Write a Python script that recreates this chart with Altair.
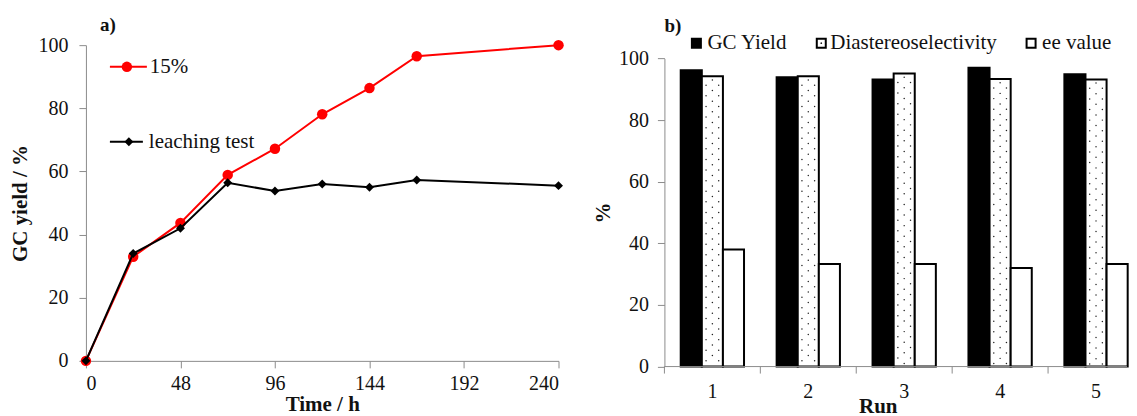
import altair as alt
import pandas as pd

# ---------------- data ----------------
time_h = [0, 24, 48, 72, 96, 120, 144, 168, 240]
yield_15 = [0, 33, 43.7, 58.9, 67.2, 78.1, 86.4, 96.5, 100]
yield_leach = [0, 34, 42, 56.4, 53.8, 56, 55, 57.3, 55.5]
line_series = ["15%", "leaching test"]
x_ticks = [0, 48, 96, 144, 192, 240]
y_ticks = [0, 20, 40, 60, 80, 100]

runs = ["1", "2", "3", "4", "5"]
gc_yield = [96.2, 93.9, 93.2, 97.0, 94.9]
diastereo = [94.2, 94.2, 95.1, 93.3, 93.2]
ee_value = [38.0, 33.3, 33.3, 32.0, 33.3]
bar_series = ["GC Yield", "Diastereoselectivity", "ee value"]
bar_fills = ["black", "white", "white"]
panel_labels = ["a)", "b)"]

FONT = "Liberation Serif"
GREY = "#8c8c8c"
TXT = "#111111"

# ---------------- left panel ----------------
LW, LH = 473, 316
df_line = pd.DataFrame({
    "time": time_h * 2,
    "yield": yield_15 + yield_leach,
    "series": [line_series[0]] * len(time_h) + [line_series[1]] * len(time_h),
})

axL_x = alt.Axis(values=x_ticks, title="Time / h", grid=False, tickSize=7,
                 labelPadding=6, titlePadding=0, labelAngle=0)
axL_y = alt.Axis(values=y_ticks, title="GC yield / %", grid=False, tickSize=7,
                 labelPadding=11, titlePadding=7)
xL = alt.X("time:Q", scale=alt.Scale(domain=[0, 240], nice=False), axis=axL_x)
yL = alt.Y("yield:Q", scale=alt.Scale(domain=[0, 100], nice=False), axis=axL_y)

base_l = alt.Chart(df_line)
red = base_l.transform_filter(alt.datum.series == line_series[0]).mark_line(
    color="#ff0000", strokeWidth=2,
    point=alt.OverlayMarkDef(filled=True, size=110, color="#ff0000")
).encode(x=xL, y=yL)
blk = base_l.transform_filter(alt.datum.series == line_series[1]).mark_line(
    color="black", strokeWidth=2,
    point=alt.OverlayMarkDef(filled=True, size=80, shape="diamond", color="black")
).encode(x=xL, y=yL)

df_leg_l = pd.DataFrame({"series": line_series})
leg_l = []
for s, col, shp, sz, yy, x0, x1, xm, xt in [
    (line_series[0], "#ff0000", "circle", 110, 21.7, 24, 61, 41, 64),
    (line_series[1], "black", "diamond", 80, 96.7, 24, 57, 43, 63),
]:
    b = alt.Chart(df_leg_l).transform_filter(alt.datum.series == s)
    leg_l.append(b.mark_rule(color=col, strokeWidth=2).encode(
        x=alt.value(x0), x2=alt.value(x1), y=alt.value(yy)))
    leg_l.append(b.mark_point(filled=True, size=sz, shape=shp, color=col, opacity=1).encode(
        x=alt.value(xm), y=alt.value(yy)))
    leg_l.append(b.mark_text(align="left", baseline="middle", font=FONT, fontSize=21,
                             color=TXT).encode(x=alt.value(xt), y=alt.value(yy), text="series:N"))

lab_a = alt.Chart(pd.DataFrame({"label": [panel_labels[0]]})).mark_text(
    align="left", baseline="middle", font=FONT, fontSize=19, fontWeight="bold", color=TXT
).encode(x=alt.value(14), y=alt.value(-20), text="label:N")

left = alt.layer(red, blk, *leg_l, lab_a).properties(width=LW, height=LH)

# ---------------- right panel ----------------
RW, RH = 463, 321.7
df_bar = pd.DataFrame({
    "run": runs * 3,
    "series": [s for s in bar_series for _ in runs],
    "value": gc_yield + diastereo + ee_value,
})

axR_y = alt.Axis(values=y_ticks, title="%", grid=False, tickSize=7,
                 labelPadding=9, titlePadding=5)
scR_x = alt.Scale(domain=runs, range=[0, 480], paddingInner=0.34, paddingOuter=0.17)
scR_y = alt.Scale(domain=[0, 100], range=[RH, 13.3], nice=False)
xR = alt.X("run:N", sort=runs, scale=scR_x, axis=None)
xOff = alt.XOffset("series:N", sort=bar_series,
                   scale=alt.Scale(domain=bar_series, paddingInner=0, paddingOuter=0))
yR = alt.Y("value:Q", scale=scR_y, axis=axR_y)

base_r = alt.Chart(df_bar)
bars = base_r.mark_bar(stroke="black", strokeWidth=2).encode(
    x=xR, xOffset=xOff, y=yR,
    fill=alt.Fill("series:N", scale=alt.Scale(domain=bar_series, range=bar_fills), legend=None),
)

# stipple texture for the dotted bars: 11 sub-slots per group, middle bar = slots 4,5,6
slots = [f"s{i}" for i in range(11)]
dot_layers = []
for slot, start_off in [("s5", 1.2), ("s4", 2.9), ("s6", 2.9)]:
    dot_layers.append(
        base_r.transform_filter(alt.datum.series == bar_series[1])
        .transform_calculate(dy=f"sequence(datum.value - {start_off}, 0.6, -3.44)",
                             slot=f"'{slot}'")
        .transform_flatten(["dy"])
        .mark_circle(size=2.2, color="#222222", opacity=1)
        .encode(x=xR,
                xOffset=alt.XOffset("slot:N", scale=alt.Scale(domain=slots, paddingInner=0,
                                                              paddingOuter=0)),
                y=alt.Y("dy:Q", scale=scR_y, axis=axR_y))
    )

df_runs = pd.DataFrame({"run": runs})
ticks_r = alt.Chart(df_runs).mark_rule(color=GREY, strokeWidth=1).encode(
    x=alt.X("run:N", sort=runs, bandPosition=0,
            scale=alt.Scale(domain=runs, range=[0, 480], paddingInner=0, paddingOuter=0),
            axis=None),
    y=alt.value(RH), y2=alt.value(RH + 7),
)
run_labels = alt.Chart(df_runs).mark_text(
    baseline="middle", align="center", font=FONT, fontSize=20, color=TXT
).encode(x=alt.X("run:N", sort=runs, scale=scR_x, axis=None), y=alt.value(RH + 25), text="run:N")

df_b = pd.DataFrame({"label": [panel_labels[1]]})
baseline = alt.Chart(df_b).mark_rule(color=GREY, strokeWidth=1).encode(
    x=alt.value(0), x2=alt.value(RW), y=alt.value(RH))
lab_b = alt.Chart(df_b).mark_text(
    align="left", baseline="middle", font=FONT, fontSize=19, fontWeight="bold", color=TXT
).encode(x=alt.value(0), y=alt.value(-19), text="label:N")
run_title = alt.Chart(pd.DataFrame({"t": ["Run"]})).mark_text(
    align="center", baseline="middle", font=FONT, fontSize=21, fontWeight="bold", color=TXT
).encode(x=alt.value(214), y=alt.value(RH + 40), text="t:N")

df_leg_r = pd.DataFrame({"series": bar_series, "fill": bar_fills})
leg_r = []
for s, f, xs, xt in zip(bar_series, bar_fills, [32, 157, 367], [43, 166, 378]):
    b = alt.Chart(df_leg_r).transform_filter(alt.datum.series == s)
    leg_r.append(b.mark_square(size=81, fill=f, stroke="black", strokeWidth=2, opacity=1).encode(
        x=alt.value(xs), y=alt.value(-2)))
    if s == bar_series[1]:
        leg_r.append(b.mark_circle(size=3, color="#222222", opacity=1).encode(
            x=alt.value(xs), y=alt.value(-2)))
    leg_r.append(b.mark_text(align="left", baseline="middle", font=FONT, fontSize=21,
                             color=TXT).encode(x=alt.value(xt), y=alt.value(-2), text="series:N"))

right = alt.layer(bars, *dot_layers, ticks_r, run_labels, baseline, lab_b, run_title,
                  *leg_r).resolve_scale(x="independent", xOffset="independent").properties(
    width=RW, height=RH)

chart = alt.hconcat(left, right, spacing=28).properties(
    padding={"left": 2, "top": 8, "right": 0, "bottom": 0}
).configure_view(stroke=None).configure_axis(
    labelFont=FONT, titleFont=FONT, labelFontSize=20, titleFontSize=21,
    labelColor=TXT, titleColor=TXT, titleFontWeight="bold",
    domainColor=GREY, tickColor=GREY, domainWidth=1, tickWidth=1,
)

chart.save("out.html", embed_options={"renderer": "svg", "actions": False})
